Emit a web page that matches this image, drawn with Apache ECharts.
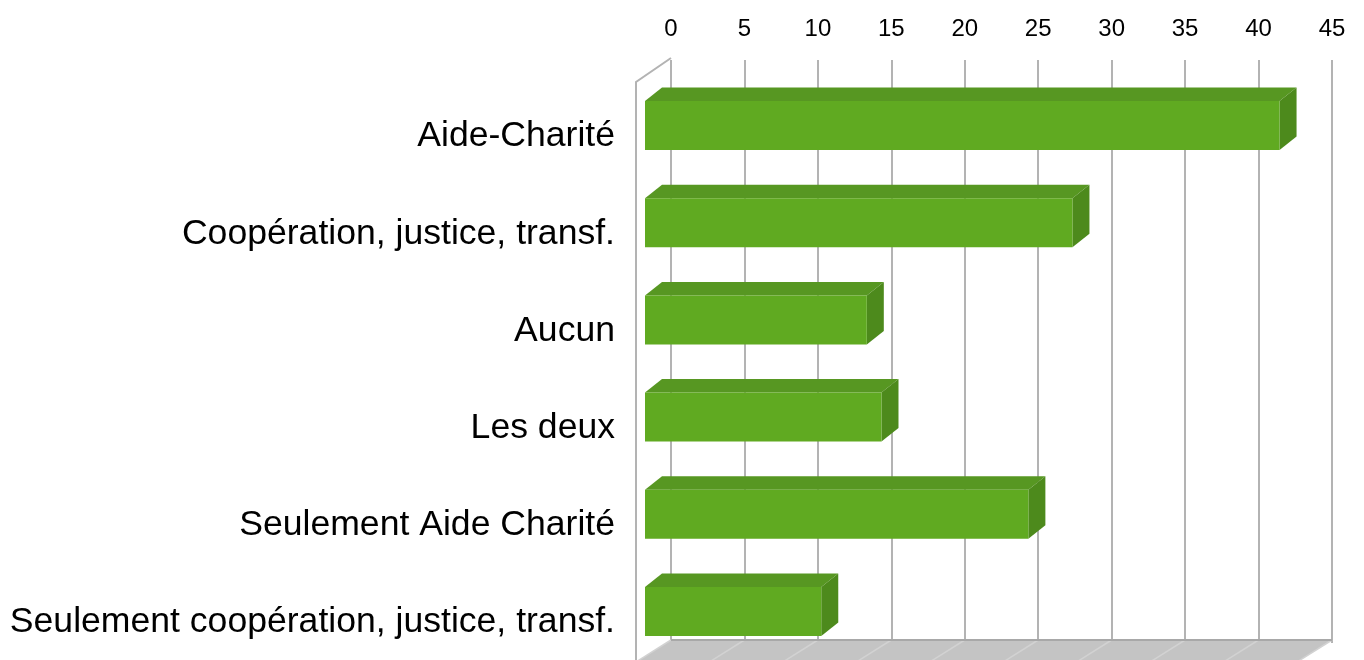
<!DOCTYPE html>
<html>
<head>
<meta charset="utf-8">
<script src="https://cdn.jsdelivr.net/npm/echarts@6/dist/echarts.min.js"></script>
<style>
html,body{margin:0;padding:0;background:#fff;}
#chart{width:1364px;height:660px;}
</style>
</head>
<body>
<div id="chart"></div>
<script>
var categories = [
  "Aide-Charité",
  "Coopération, justice, transf.",
  "Aucun",
  "Les deux",
  "Seulement Aide Charité",
  "Seulement coopération, justice, transf."
];
var values = [43.2, 29.1, 15.1, 16.1, 26.1, 12.0];
var xTicks = [0, 5, 10, 15, 20, 25, 30, 35, 40, 45];

// depth vector from back wall to front of the floor (pixels)
var DX = -35, DY = 22;
// bar front / back face offsets from the back wall (pixels)
var FX = -26, FY = 17, BX = -9, BY = 3.5;

var chart = echarts.init(document.getElementById('chart'), null, {renderer: 'canvas'});

function renderFrame(params, api) {
  var cs = params.coordSys;
  var yb = cs.y + cs.height - 3;
  var xl = cs.x, xr = cs.x + cs.width, yt = cs.y;
  var children = [];
  children.push({
    type: 'polygon',
    shape: {points: [[xl, yb], [xr, yb], [xr + DX, yb + DY], [xl + DX, yb + DY]]},
    style: {fill: '#c4c4c4', stroke: null}
  });
  for (var i = 0; i < xTicks.length; i++) {
    var x = api.coord([xTicks[i], 0])[0];
    children.push({
      type: 'line',
      shape: {x1: x, y1: yb, x2: x + DX, y2: yb + DY},
      style: {stroke: '#d2d2d2', lineWidth: 1.5}
    });
  }
  children.push({
    type: 'line',
    shape: {x1: xl, y1: yb, x2: xr, y2: yb},
    style: {stroke: '#a8a8a8', lineWidth: 2}
  });
  children.push({
    type: 'polyline',
    shape: {points: [[xl + DX, yb + DY], [xl + DX, yt + DY], [xl, yt - 2]]},
    style: {stroke: '#b3b3b3', lineWidth: 2, fill: null}
  });
  return {type: 'group', children: children};
}

function renderBar(params, api) {
  var val = api.value(0), cat = api.value(1);
  var p0 = api.coord([0, cat]);
  var p1 = api.coord([val, cat]);
  var band = api.size([0, 1])[1];
  var h = band * 0.252;
  var xa = p0[0], xb = p1[0], yc = p0[1];
  var ft = yc - h + FY, fb = yc + h + FY;
  var bt = yc - h + BY, bb = yc + h + BY;
  return {
    type: 'group',
    children: [
      {type: 'polygon', shape: {points: [[xa + FX, ft], [xb + FX, ft], [xb + BX, bt], [xa + BX, bt]]},
        style: {fill: '#579722'}},
      {type: 'polygon', shape: {points: [[xb + FX, ft], [xb + BX, bt], [xb + BX, bb], [xb + FX, fb]]},
        style: {fill: '#4d8a1c'}},
      {type: 'rect', shape: {x: xa + FX, y: ft, width: xb - xa, height: fb - ft},
        style: {fill: '#60aa21'}}
    ]
  };
}

var barData = values.map(function (v, i) { return [v, i]; });

chart.setOption({
  animation: false,
  backgroundColor: '#ffffff',
  grid: [
    {left: 671, right: 32, top: 60, height: 583, containLabel: false, outerBoundsMode: 'none'},
    {left: 623, width: 700, top: 88, height: 583, containLabel: false, outerBoundsMode: 'none'}
  ],
  xAxis: [
    {
      type: 'value', gridIndex: 0, position: 'top', min: 0, max: 45, interval: 5,
      axisLine: {show: false}, axisTick: {show: false},
      axisLabel: {fontSize: 24, color: '#000', fontFamily: 'Liberation Sans', margin: 19},
      splitLine: {show: true, lineStyle: {color: '#b3b3b3', width: 2}}
    },
    {
      type: 'value', gridIndex: 1, show: false, min: 0, max: 45
    }
  ],
  yAxis: [
    {
      type: 'category', gridIndex: 0, data: categories, inverse: true,
      axisLine: {show: false}, axisTick: {show: false}, axisLabel: {show: false},
      splitLine: {show: false}
    },
    {
      type: 'category', gridIndex: 1, data: categories, inverse: true,
      axisLine: {show: false}, axisTick: {show: false},
      axisLabel: {fontSize: 35.6, color: '#000', fontFamily: 'Liberation Sans', margin: 8},
      splitLine: {show: false}
    }
  ],
  series: [
    {
      type: 'custom', name: 'frame', xAxisIndex: 0, yAxisIndex: 0,
      renderItem: renderFrame, data: [[0, 0]], silent: true, z: 1, clip: false
    },
    {
      type: 'custom', name: 'values', xAxisIndex: 0, yAxisIndex: 0,
      renderItem: renderBar, data: barData, encode: {x: 0, y: 1}, z: 2, clip: false
    }
  ]
});
</script>
</body>
</html>
